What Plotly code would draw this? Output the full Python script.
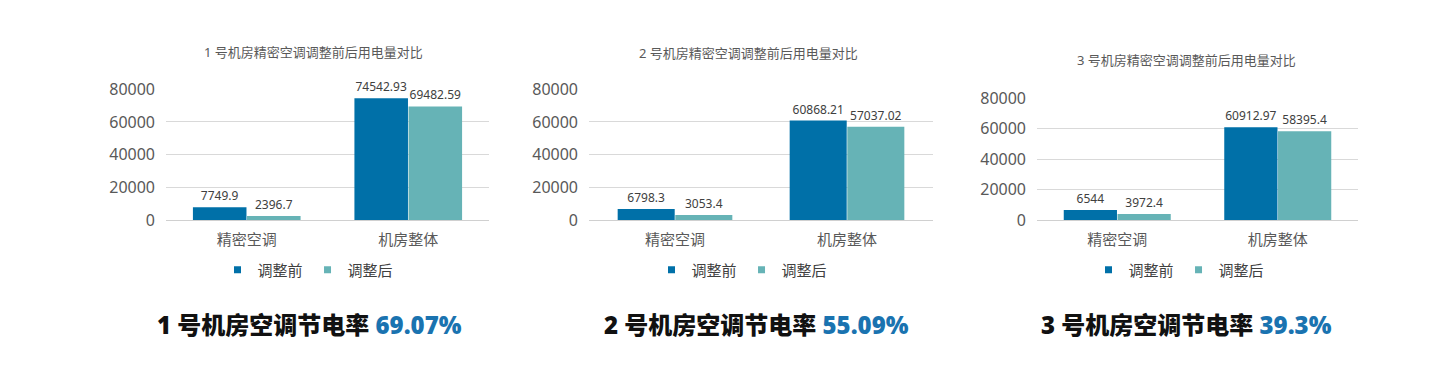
import plotly.graph_objects as go

categories = ["精密空调", "机房整体"]
series_names = ["调整前", "调整后"]

room1_before = [7749.9, 74542.93]
room1_after = [2396.7, 69482.59]
room2_before = [6798.3, 60868.21]
room2_after = [3053.4, 57037.02]
room3_before = [6544, 60912.97]
room3_after = [3972.4, 58395.4]

titles = ["1 号机房精密空调调整前后用电量对比", "2 号机房精密空调调整前后用电量对比", "3 号机房精密空调调整前后用电量对比"]
rate_labels = ["1 号机房空调节电率", "2 号机房空调节电率", "3 号机房空调节电率"]
rates = ["69.07%", "55.09%", "39.3%"]

y_ticks = [0, 20000, 40000, 60000, 80000]

BLUE = "#0070A8"
TEAL = "#66B3B6"
FONT = "Noto Sans, Noto Sans CJK SC, sans-serif"
W, H = 1440, 372

def px_x(p):
    return p / W

def px_y(p):
    return (H - p) / H

# panel geometry in pixels: (left, right, top gridline y, zero y)
panels = [
    (166, 489, 89.3, 220),
    (589, 933, 89.3, 220),
    (1037, 1358, 98.3, 220),
]
title_pos = [(313, 52), (748, 53), (1186, 60)]
rate_pos = [(309, 324), (756, 324), (1186, 324)]
legend_pos = [(308, 270), (742, 270), (1179, 270)]

data = [(room1_before, room1_after), (room2_before, room2_after), (room3_before, room3_after)]

def fmt(v):
    return str(v)

fig = go.Figure()
layout = dict(
    width=W, height=H,
    margin=dict(l=0, r=0, t=0, b=0, pad=0, autoexpand=False),
    paper_bgcolor="white", plot_bgcolor="white",
    barmode="group", bargap=0.33, bargroupgap=0.01,
    font=dict(family=FONT, color="#595959"),
    annotations=[],
)

for i, (before, after) in enumerate(data):
    xa = "x" if i == 0 else f"x{i+1}"
    ya = "y" if i == 0 else f"y{i+1}"
    lg = "legend" if i == 0 else f"legend{i+1}"
    for name, vals, col in [(series_names[0], before, BLUE), (series_names[1], after, TEAL)]:
        fig.add_trace(go.Bar(
            x=categories, y=vals, name=name, xaxis=xa, yaxis=ya,
            marker=dict(color=col, line=dict(width=0)),
            text=[fmt(v) for v in vals], textposition="outside",
            textfont=dict(size=12, color="#404040", family=FONT),
            cliponaxis=False, showlegend=False,
        ))
        fig.add_trace(go.Scatter(
            x=[None], y=[None], mode="markers", name=name, xaxis=xa, yaxis=ya,
            marker=dict(symbol="square", size=7, color=col),
            legend=lg, showlegend=True,
        ))
    left, right, top, zero = panels[i]
    xkey = "xaxis" if i == 0 else f"xaxis{i+1}"
    ykey = "yaxis" if i == 0 else f"yaxis{i+1}"
    layout[xkey] = dict(
        domain=[px_x(left), px_x(right)], anchor=ya,
        showgrid=False, showline=True, linecolor="#D0D0D0", linewidth=1,
        ticks="", ticklabelstandoff=6,
        tickfont=dict(size=15, color="#595959", family=FONT),
        fixedrange=True,
    )
    layout[ykey] = dict(
        domain=[px_y(zero), px_y(top)], anchor=xa,
        range=[0, 80000], tickvals=y_ticks, ticktext=[str(t) for t in y_ticks],
        showgrid=True, gridcolor="#D9D9D9", gridwidth=1, zeroline=False,
        showline=False, ticks="", ticklabelstandoff=10,
        tickfont=dict(size=16, color="#595959", family=FONT),
        fixedrange=True,
    )
    lx, ly = legend_pos[i]
    layout[lg] = dict(
        orientation="h", x=px_x(lx), y=px_y(ly), xanchor="center", yanchor="middle",
        font=dict(size=15, color="#404040", family=FONT),
        itemwidth=30, tracegroupgap=0, bgcolor="rgba(0,0,0,0)",
    )
    tx, ty = title_pos[i]
    layout["annotations"].append(dict(
        text=titles[i], x=px_x(tx), y=px_y(ty), xref="paper", yref="paper",
        xanchor="center", yanchor="middle", showarrow=False,
        font=dict(size=13, color="#595959", family=FONT),
    ))
    rx, ry = rate_pos[i]
    layout["annotations"].append(dict(
        text=f"{rate_labels[i]} <span style='color:#1A73B0'>{rates[i]}</span>",
        x=px_x(rx), y=px_y(ry), xref="paper", yref="paper",
        xanchor="center", yanchor="middle", showarrow=False,
        font=dict(size=24, color="#111111", family=FONT, weight=900),
    ))

fig.update_layout(**layout)
fig.write_html(
    "out.html",
    config={"displayModeBar": False},
    post_script="document.body.style.margin='0';document.body.style.overflow='hidden';",
)
